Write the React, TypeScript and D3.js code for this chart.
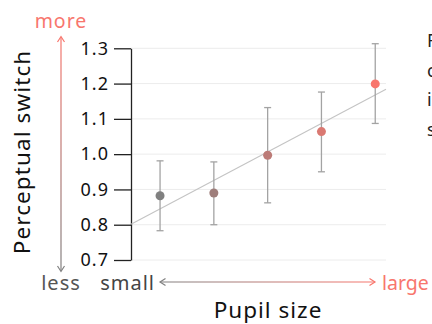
import { useEffect, useRef } from 'react';
import * as d3 from 'd3';

// pupil size bins (small -> large)
const bins = [1, 2, 3, 4, 5];
const means = [0.882, 0.89, 0.997, 1.064, 1.199];
const upper = [0.981, 0.978, 1.132, 1.176, 1.313];
const lower = [0.783, 0.8, 0.862, 0.95, 1.087];
const yTicks = [0.7, 0.8, 0.9, 1.0, 1.1, 1.2, 1.3];
const sideText = ['F', 'c', 'i', 's'];

const GREY = '#808080';
const RED = '#f8766d';
const FONT = '"Noto Sans", sans-serif';

const App = () => {
  const svgRef = useRef<SVGSVGElement>(null);

  useEffect(() => {
    const svg = d3.select(svgRef.current);
    svg.selectAll('*').remove();

    const W = 432;
    const H = 324;
    const left = 131;
    const right = 386;
    const top = 48.3;
    const bottom = 260;

    const x = d3.scaleLinear().domain([0.46, 5.2]).range([left, right]);
    const y = d3.scaleLinear().domain([0.7, 1.3]).range([bottom, top]);
    const color = d3.interpolateRgb(GREY, RED);

    const defs = svg.append('defs');
    const vg = defs.append('linearGradient')
      .attr('id', 'vgrad')
      .attr('gradientUnits', 'userSpaceOnUse')
      .attr('x1', 0).attr('y1', 36).attr('x2', 0).attr('y2', 272);
    vg.append('stop').attr('offset', 0).attr('stop-color', RED);
    vg.append('stop').attr('offset', 1).attr('stop-color', GREY);
    const hg = defs.append('linearGradient')
      .attr('id', 'hgrad')
      .attr('gradientUnits', 'userSpaceOnUse')
      .attr('x1', 160).attr('y1', 0).attr('x2', 376).attr('y2', 0);
    hg.append('stop').attr('offset', 0).attr('stop-color', GREY);
    hg.append('stop').attr('offset', 1).attr('stop-color', RED);

    // grid lines
    svg.append('g')
      .selectAll('line')
      .data(yTicks)
      .enter().append('line')
      .attr('x1', left).attr('x2', right)
      .attr('y1', d => y(d)).attr('y2', d => y(d))
      .attr('stroke', '#ececec')
      .attr('stroke-width', 1);

    // y axis
    const axis = svg.append('g')
      .attr('transform', `translate(${left},0)`)
      .call(d3.axisLeft(y)
        .tickValues(yTicks)
        .tickFormat(d3.format('.1f'))
        .tickSize(17)
        .tickSizeOuter(0)
        .tickPadding(6));
    axis.select('.domain').attr('stroke', '#222').attr('stroke-width', 1.3);
    axis.selectAll('.tick line').attr('stroke', '#222').attr('stroke-width', 1.3);
    axis.selectAll('.tick text')
      .attr('font-family', FONT)
      .attr('font-size', 18)
      .attr('letter-spacing', 1)
      .attr('dx', 1)
      .attr('fill', '#111');

    // regression line (least squares through the means)
    const mx = d3.mean(bins) as number;
    const my = d3.mean(means) as number;
    const slope = d3.sum(bins, (b, i) => (b - mx) * (means[i] - my)) /
      d3.sum(bins, b => (b - mx) * (b - mx));
    const fit = (v: number) => my + slope * (v - mx);
    const [x0, x1] = x.domain();
    svg.append('line')
      .attr('x1', x(x0)).attr('y1', y(fit(x0)))
      .attr('x2', x(x1)).attr('y2', y(fit(x1)))
      .attr('stroke', '#c4c4c4')
      .attr('stroke-width', 1.1);

    // error bars
    const eb = svg.append('g')
      .attr('stroke', '#a3a3a3')
      .attr('stroke-width', 1.3)
      .selectAll('g')
      .data(bins)
      .enter().append('g');
    eb.append('line')
      .attr('x1', d => x(d)).attr('x2', d => x(d))
      .attr('y1', (d, i) => y(upper[i])).attr('y2', (d, i) => y(lower[i]));
    eb.append('line')
      .attr('x1', d => x(d) - 3.5).attr('x2', d => x(d) + 3.5)
      .attr('y1', (d, i) => y(upper[i])).attr('y2', (d, i) => y(upper[i]));
    eb.append('line')
      .attr('x1', d => x(d) - 3.5).attr('x2', d => x(d) + 3.5)
      .attr('y1', (d, i) => y(lower[i])).attr('y2', (d, i) => y(lower[i]));

    // points
    svg.append('g')
      .selectAll('circle')
      .data(bins)
      .enter().append('circle')
      .attr('cx', d => x(d))
      .attr('cy', (d, i) => y(means[i]))
      .attr('r', 4.5)
      .attr('fill', (d, i) => color(i / (bins.length - 1)));

    // vertical "more / less" arrow
    const ax = 61;
    svg.append('line')
      .attr('x1', ax).attr('x2', ax).attr('y1', 37).attr('y2', 271)
      .attr('stroke', 'url(#vgrad)').attr('stroke-width', 1.2);
    svg.append('path')
      .attr('d', `M${ax - 3.5},${42} L${ax},${36.5} L${ax + 3.5},${42}`)
      .attr('fill', 'none').attr('stroke', RED).attr('stroke-width', 1.2);
    svg.append('path')
      .attr('d', `M${ax - 3.5},${266} L${ax},${271.5} L${ax + 3.5},${266}`)
      .attr('fill', 'none').attr('stroke', GREY).attr('stroke-width', 1.2);

    // horizontal "small / large" arrow
    const ay = 282;
    svg.append('line')
      .attr('x1', 160).attr('x2', 375).attr('y1', ay).attr('y2', ay)
      .attr('stroke', 'url(#hgrad)').attr('stroke-width', 1.2);
    svg.append('path')
      .attr('d', `M${165.5},${ay - 3.5} L${160},${ay} L${165.5},${ay + 3.5}`)
      .attr('fill', 'none').attr('stroke', GREY).attr('stroke-width', 1.2);
    svg.append('path')
      .attr('d', `M${369.5},${ay - 3.5} L${375},${ay} L${369.5},${ay + 3.5}`)
      .attr('fill', 'none').attr('stroke', RED).attr('stroke-width', 1.2);

    const label = (t: string, px: number, py: number, size: number, fill: string, anchor = 'start', ls = 1) =>
      svg.append('text')
        .attr('x', px).attr('y', py)
        .attr('font-family', FONT)
        .attr('font-size', size)
        .attr('letter-spacing', ls)
        .attr('fill', fill)
        .attr('text-anchor', anchor)
        .text(t);

    label('more', 61, 27.5, 19.5, RED, 'middle');
    label('less', 61, 290, 20, '#555', 'middle');
    label('small', 155, 290, 20, '#444', 'end');
    label('large', 382, 290, 19.5, RED, 'start', 0);
    label('Pupil size', 268, 318, 22.5, '#111', 'middle');

    svg.append('text')
      .attr('transform', `translate(30,152) rotate(-90)`)
      .attr('font-family', FONT)
      .attr('font-size', 22.5)
      .attr('letter-spacing', 1.1)
      .attr('fill', '#111')
      .attr('text-anchor', 'middle')
      .text('Perceptual switch');

    sideText.forEach((t, i) => label(t, 427, 47 + i * 29.5, 18, '#222'));

    svg.attr('width', W).attr('height', H);
  }, []);

  return (
    <svg
      ref={svgRef}
      width={432}
      height={324}
      style={{ position: 'absolute', left: 0, top: 0, background: '#fff' }}
    />
  );
};

export default App;
